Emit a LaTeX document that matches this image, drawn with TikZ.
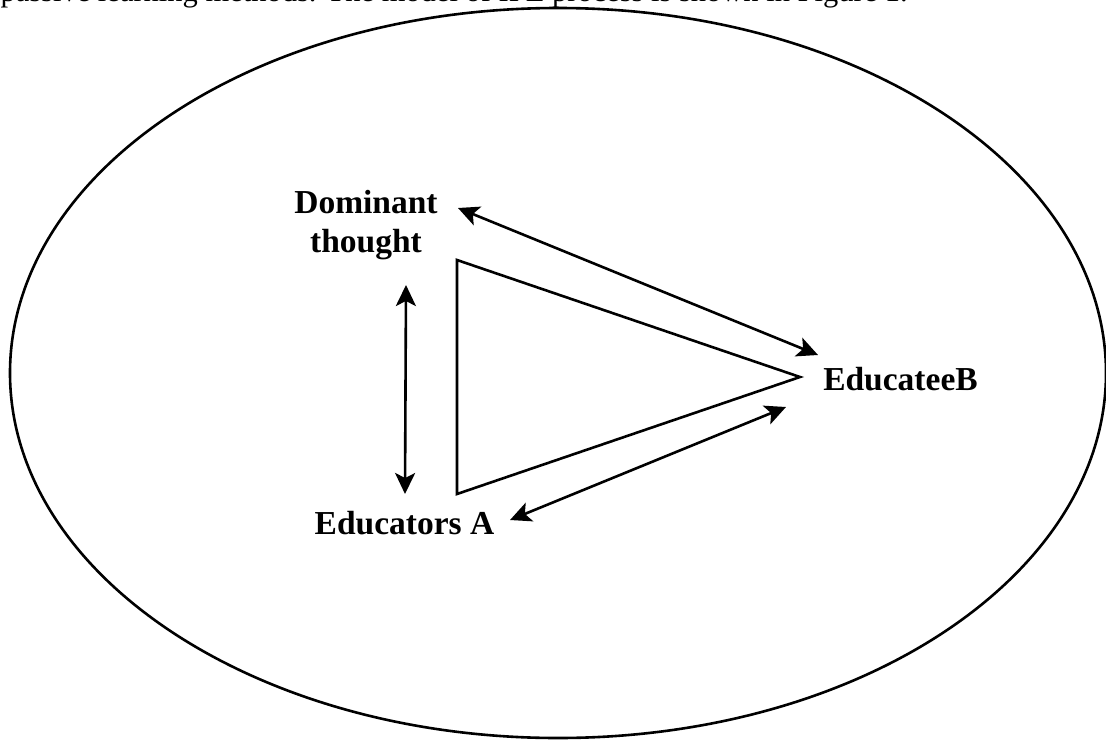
\documentclass[tikz,border=0pt]{standalone}
\usepackage{fontspec}
\setmainfont{Liberation Serif}
\usetikzlibrary{arrows.meta,shapes.geometric}
\tikzset{
  outline/.style={line width=2.6pt, line join=miter},
  twoway/.style={line width=2.6pt, {Stealth[length=21pt,width=20pt,inset=5pt]}-{Stealth[length=21pt,width=20pt,inset=5pt]}},
  lbl/.style={inner sep=0pt, font=\fontsize{33.5}{39}\selectfont\bfseries, align=center},
  captxt/.style={inner sep=0pt, font=\fontsize{30.5}{36}\selectfont}
}
\begin{document}
\begin{tikzpicture}[x=1pt,y=-1pt]
\useasboundingbox (0,0) rectangle (1106,742);
\clip (0,0) rectangle (1106,742);
\fill[white] (0,0) rectangle (1106,742);
% cut-off caption line at the top
\node[captxt, anchor=base east] (cap) at (908,1.5) {passive learning methods. The model of IPE process is shown in Figure 1.};
% outer ellipse
\node[outline, draw, ellipse, minimum width=1096pt, minimum height=730pt, inner sep=0pt] (env) at (558,373) {};
% triangle
\coordinate (t1) at (457,260);
\coordinate (t2) at (457,494);
\coordinate (t3) at (800,377);
\draw[outline] (t1) -- (t2) -- (t3) -- cycle;
% labels
\node[lbl] (dom) at (366,225) {Dominant\\thought};
\node[lbl, anchor=base] (edb) at (900.5,390) {EducateeB};
\node[lbl, anchor=base] (eda) at (404.5,534) {Educators A};
% arrow end points
\coordinate (d1) at (458,208);
\coordinate (b1) at (818,355);
\coordinate (d2) at (406,285);
\coordinate (a2) at (405,494);
\coordinate (a3) at (510,520);
\coordinate (b3) at (786,407);
\draw[twoway] (d1) -- (b1);
\draw[twoway] (d2) -- (a2);
\draw[twoway] (a3) -- (b3);
\end{tikzpicture}
\end{document}
